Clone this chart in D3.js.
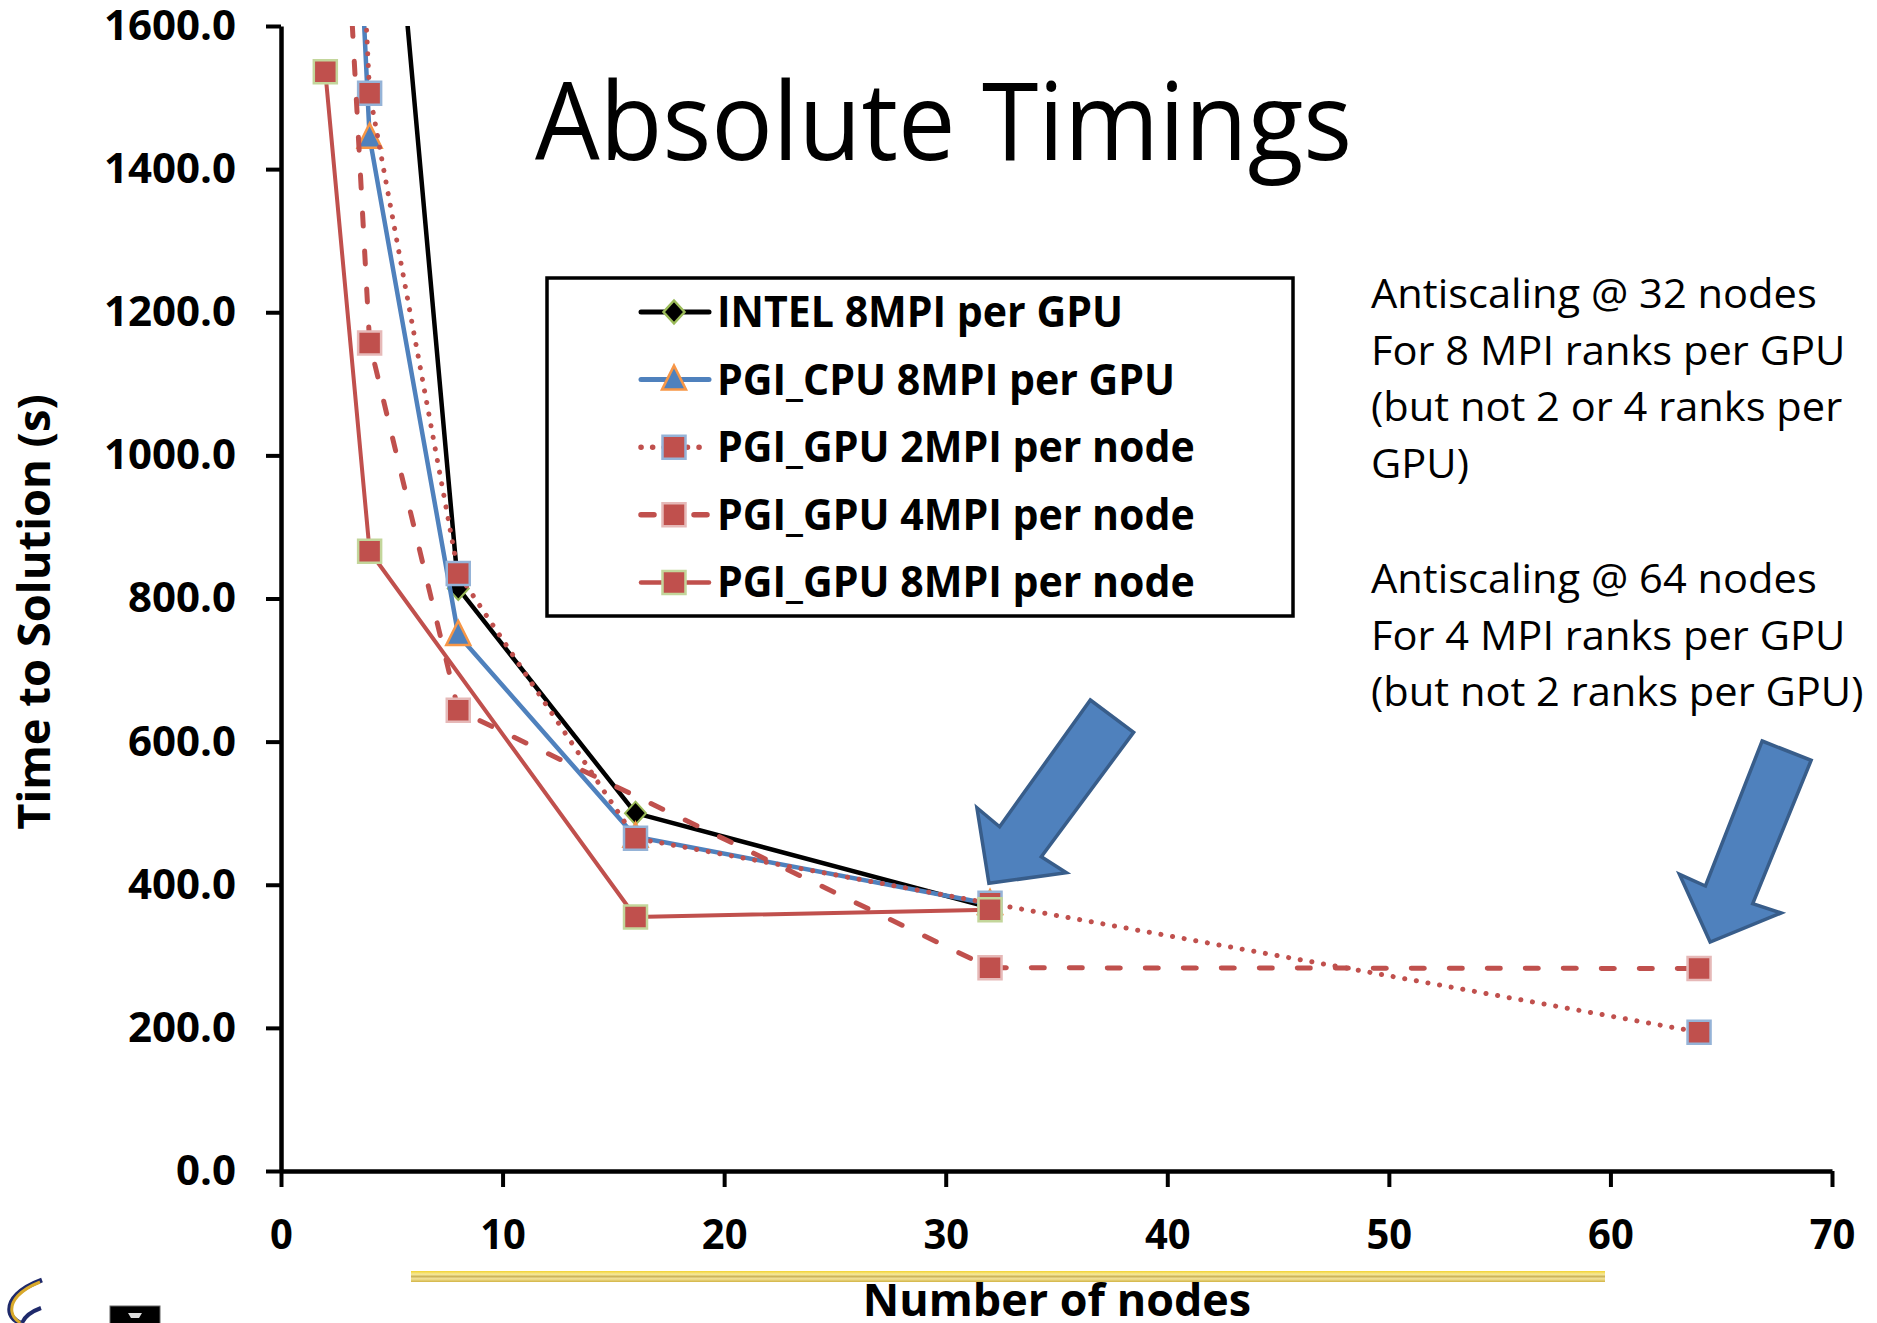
<!DOCTYPE html>
<html>
<head>
<meta charset="utf-8">
<script src="https://cdn.jsdelivr.net/npm/d3@7"></script>
<style>
body {margin:0; background:#fff}
svg {display:block}
text {font-family:"Open Sans", sans-serif}
</style>
</head>
<body>
<svg id="chart"></svg>
<script>
// values
var seriesNames = ["INTEL 8MPI per GPU", "PGI_CPU 8MPI per GPU", "PGI_GPU 2MPI per node",
                   "PGI_GPU 4MPI per node", "PGI_GPU 8MPI per node"]

var intelNodes = [4, 8, 16, 32]
var intelTime  = [2190, 814, 500, 368]

var cpuNodes = [2, 4, 8, 16, 32]
var cpuTime  = [2720, 1444, 749, 467, 373]

var gpu2Nodes = [2, 4, 8, 16, 32, 64]
var gpu2Time  = [2780, 1506, 835, 465, 374, 194]

var gpu4Nodes = [2, 4, 8, 32, 64]
var gpu4Time  = [2293, 1157, 644, 284, 283]

var gpu8Nodes = [2, 4, 16, 32]
var gpu8Time  = [1536, 866, 355, 365]

var xTicks = [0, 10, 20, 30, 40, 50, 60, 70]
var yTicks = [0, 200, 400, 600, 800, 1000, 1200, 1400, 1600]

var note32 = ["Antiscaling @ 32 nodes", "For 8 MPI ranks per GPU", "(but not 2 or 4 ranks per", "GPU)"]
var note64 = ["Antiscaling @ 64 nodes", "For 4 MPI ranks per GPU", "(but not 2 ranks per GPU)"]

// arrows point at (nodes, time)
var arrowTips = [[31.95, 402], [64.5, 320]]

var zip = function(xs, ys) { return xs.map(function(v, i) { return [v, ys[i]] }) }

var series = [
    {name: seriesNames[0], pts: zip(intelNodes, intelTime), color: "#000000", width: 4.5, dash: null, legendDash: null,
     marker: "diamond", fill: "#000000", edge: "#9bbb59"},
    {name: seriesNames[1], pts: zip(cpuNodes, cpuTime), color: "#4f81bd", width: 4.5, dash: null, legendDash: null,
     marker: "triangle", fill: "#4f81bd", edge: "#f79646"},
    {name: seriesNames[2], pts: zip(gpu2Nodes, gpu2Time), color: "#c0504d", width: 5, dash: "0.1,11.7", legendDash: "0.1,11.5",
     marker: "square", fill: "#c0504d", edge: "#95b3d7"},
    {name: seriesNames[3], pts: zip(gpu4Nodes, gpu4Time), color: "#c0504d", width: 5, dash: "13,25", legendDash: "13,40",
     marker: "square", fill: "#c0504d", edge: "#e6b9b8"},
    {name: seriesNames[4], pts: zip(gpu8Nodes, gpu8Time), color: "#c0504d", width: 4, dash: null, legendDash: null,
     marker: "square", fill: "#c0504d", edge: "#c3d69b"}
]

var screen = {width: 1877, height: 1323}
var plot = {left: 281, right: 1832, top: 26, bottom: 1171}

var svg = d3.select("#chart")
    .attr("width", screen.width)
    .attr("height", screen.height)

var xScale = d3.scaleLinear().domain([0, 70]).range([plot.left, plot.right])
var yScale = d3.scaleLinear().domain([0, 1600]).range([plot.bottom, plot.top])

svg.append("defs").append("clipPath").attr("id", "plotclip")
    .append("rect")
    .attr("x", plot.left).attr("y", plot.top)
    .attr("width", plot.right - plot.left).attr("height", plot.bottom - plot.top)

// stretch/shrink the fallback font toward the width of the original face
var squeeze = function(sel, k)
{
    sel.each(function() {
        var w = this.getComputedTextLength()
        d3.select(this).attr("textLength", w * k).attr("lengthAdjust", "spacingAndGlyphs")
    })
}

var markerPath = function(kind)
{
    if (kind == "diamond") return "M0,-11.5L10.5,0L0,11.5L-10.5,0Z"
    if (kind == "triangle") return "M0,-14L12,10L-12,10Z"
    return "M-11.5,-11.5H11.5V11.5H-11.5Z"
}

var drawAxes = function()
{
    var yAxis = d3.axisLeft(yScale).tickValues(yTicks).tickSize(15).tickSizeOuter(0)
        .tickPadding(30).tickFormat(d3.format(".1f"))
    var xAxis = d3.axisBottom(xScale).tickValues(xTicks).tickSize(16).tickSizeOuter(0)
        .tickPadding(32).tickFormat(d3.format("d"))

    var gy = svg.append("g").attr("transform", "translate(" + plot.left + ",0)").call(yAxis)
    var gx = svg.append("g").attr("transform", "translate(0," + plot.bottom + ")").call(xAxis)

    ;[gx, gy].forEach(function(g) {
        g.attr("font-family", "Open Sans").attr("font-size", 42).attr("font-weight", "bold")
        g.select(".domain").attr("stroke", "#000").attr("stroke-width", 4.5)
        g.selectAll(".tick line").attr("stroke", "#000").attr("stroke-width", 4)
        g.selectAll(".tick text").attr("fill", "#000")
    })
    squeeze(gx.selectAll(".tick text"), 0.95)
}

var drawSeries = function()
{
    var line = d3.line()
        .x(function(d) { return xScale(d[0]) })
        .y(function(d) { return yScale(d[1]) })

    var g = svg.append("g").attr("clip-path", "url(#plotclip)")

    series.forEach(function(s) {
        g.append("path")
            .attr("d", line(s.pts))
            .attr("fill", "none")
            .attr("stroke", s.color)
            .attr("stroke-width", s.width)
            .attr("stroke-dasharray", s.dash)
            .attr("stroke-linecap", s.dash ? "round" : "butt")
            .attr("stroke-linejoin", "round")

        g.selectAll(null)
            .data(s.pts)
            .enter()
            .append("path")
            .attr("transform", function(d) { return "translate(" + xScale(d[0]) + "," + yScale(d[1]) + ")" })
            .attr("d", markerPath(s.marker))
            .attr("fill", s.fill)
            .attr("stroke", s.edge)
            .attr("stroke-width", s.marker == "diamond" ? 2 : 2.5)
    })
}

var drawLegend = function()
{
    var box = {x: 547, y: 278, w: 746, h: 338}
    var lg = svg.append("g")
    lg.append("rect")
        .attr("x", box.x).attr("y", box.y).attr("width", box.w).attr("height", box.h)
        .attr("fill", "#fff").attr("stroke", "#000").attr("stroke-width", 3.5)

    var rows = lg.selectAll("g.row")
        .data(series)
        .enter()
        .append("g")
        .attr("transform", function(d, i) { return "translate(0," + (312 + i * 67.6) + ")" })

    rows.append("line")
        .attr("x1", 641).attr("x2", 709)
        .attr("stroke", function(d) { return d.color })
        .attr("stroke-width", function(d) { return d.width + 0.5 })
        .attr("stroke-dasharray", function(d) { return d.legendDash })
        .attr("stroke-linecap", "round")

    rows.append("path")
        .attr("transform", "translate(674,0)")
        .attr("d", function(d) { return markerPath(d.marker) })
        .attr("fill", function(d) { return d.fill })
        .attr("stroke", function(d) { return d.edge })
        .attr("stroke-width", 2.5)

    var labels = rows.append("text")
        .attr("x", 717).attr("y", 15)
        .attr("font-size", 43).attr("font-weight", "bold")
        .text(function(d) { return d.name })
    squeeze(labels, 0.955)
}

var drawLabels = function()
{
    var labels = svg.append("g")

    var title = labels.append("text")
        .text("Absolute Timings")
        .attr("x", 535).attr("y", 160)
        .attr("font-size", 108)
    squeeze(title, 0.948)

    var yTitle = labels.append("g")
        .attr("transform", "translate(50,612)")
        .append("text")
        .text("Time to Solution (s)")
        .attr("text-anchor", "middle")
        .attr("transform", "rotate(270)")
        .attr("font-size", 44).attr("font-weight", "bold")
    squeeze(yTitle, 1.03)

    var xTitle = labels.append("text")
        .text("Number of nodes")
        .attr("x", 1057).attr("y", 1316)
        .attr("text-anchor", "middle")
        .attr("font-size", 44).attr("font-weight", "bold")
    squeeze(xTitle, 1.02)

    var notes = labels.selectAll("text.note")
        .data(note32.map(function(t, i) { return {t: t, y: 308 + i * 56.7} })
              .concat(note64.map(function(t, i) { return {t: t, y: 593 + i * 56.7} })))
        .enter()
        .append("text")
        .attr("x", 1371)
        .attr("y", function(d) { return d.y })
        .attr("font-size", 41)
        .text(function(d) { return d.t })
    squeeze(notes, 1.015)
}

var drawArrows = function()
{
    var shapes = [
        [[101.4, -183.3], [144.7, -151], [52.4, -26.6], [77.4, -10.6], [0, 0], [-12, -75.6], [10.7, -56.6]],
        [[52, -201], [101, -181.7], [42.6, -38.4], [71, -29], [0, 0], [-30.7, -67.7], [-4.7, -56]]
    ]
    svg.selectAll("path.arrow")
        .data(arrowTips)
        .enter()
        .append("path")
        .attr("transform", function(d) { return "translate(" + xScale(d[0]) + "," + yScale(d[1]) + ")" })
        .attr("d", function(d, i) { return "M" + shapes[i].join("L") + "Z" })
        .attr("fill", "#4f81bd")
        .attr("stroke", "#385d8a")
        .attr("stroke-width", 3.5)
        .attr("stroke-linejoin", "miter")
}

var drawDecor = function()
{
    var grad = svg.select("defs").append("linearGradient")
        .attr("id", "gold").attr("x1", 0).attr("x2", 0).attr("y1", 0).attr("y2", 1)
    ;[["0", "#f2d230"], ["0.3", "#f7ea9a"], ["0.5", "#cdb45a"], ["0.7", "#f3e39a"], ["1", "#d2b445"]].forEach(function(s) {
        grad.append("stop").attr("offset", s[0]).attr("stop-color", s[1])
    })
    svg.append("rect")
        .attr("x", 411).attr("y", 1271).attr("width", 1194).attr("height", 11)
        .attr("fill", "url(#gold)")

    // little logos, bottom left
    svg.append("path")
        .attr("d", "M42,1280 C20,1288 8,1300 10,1312 C11,1318 16,1321 20,1323")
        .attr("fill", "none").attr("stroke", "#1f2a6b").attr("stroke-width", 5)
    svg.append("path")
        .attr("d", "M40,1282 C20,1290 10,1301 12,1312 C13,1318 17,1321 21,1323")
        .attr("fill", "none").attr("stroke", "#d9a92a").attr("stroke-width", 3)
    svg.append("path")
        .attr("d", "M41,1308 C30,1312 24,1318 22,1323")
        .attr("fill", "none").attr("stroke", "#1f2a6b").attr("stroke-width", 4)
    svg.append("rect")
        .attr("x", 110).attr("y", 1306).attr("width", 50).attr("height", 20)
        .attr("fill", "#000").attr("stroke", "#666").attr("stroke-width", 1)
    svg.append("path")
        .attr("d", "M128,1313 h14 l-3,5 h-8 Z")
        .attr("fill", "#ddd")
}

drawAxes()
drawSeries()
drawLegend()
drawLabels()
drawArrows()
drawDecor()
</script>
</body>
</html>
